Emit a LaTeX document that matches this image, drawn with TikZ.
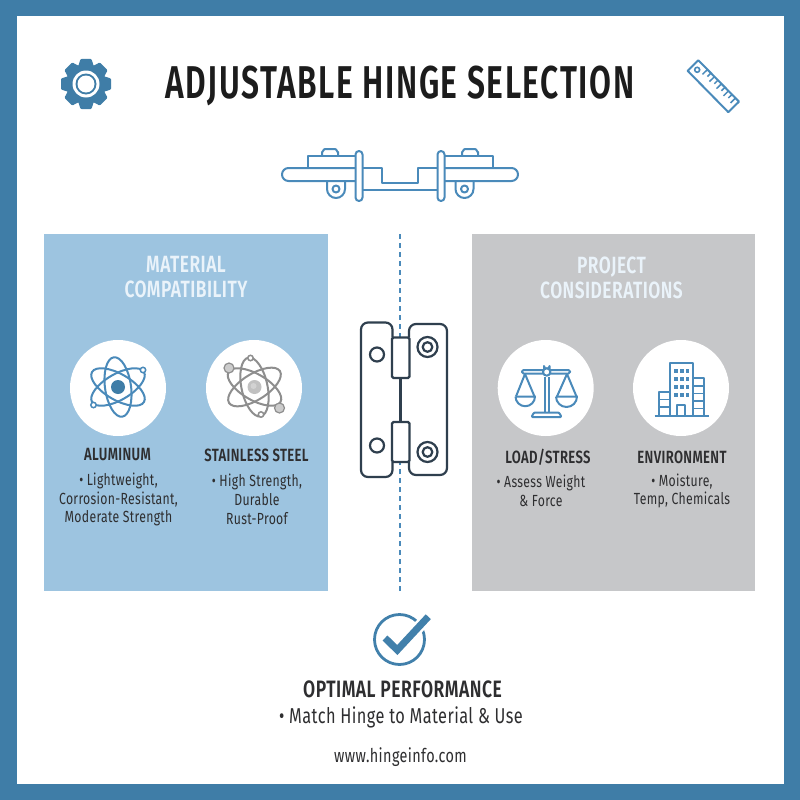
\documentclass[tikz,border=0pt]{standalone}
\usepackage{fontspec}
\setmainfont{Fira Sans}
\newfontfamily\titlefont[FakeStretch=0.69,LetterSpace=3.5]{Fira Sans SemiBold}
\newfontfamily\headfont[FakeStretch=0.74,LetterSpace=2]{Fira Sans SemiBold}
\newfontfamily\bodyfont[FakeStretch=0.76,LetterSpace=2]{Fira Sans}
\definecolor{frameblue}{HTML}{3F7DA7}
\definecolor{lineblue}{HTML}{4A8ABA}
\definecolor{panelblue}{HTML}{9DC4E0}
\definecolor{panelgray}{HTML}{C6C7C9}
\definecolor{ink}{HTML}{1C1C1C}
\definecolor{text2}{HTML}{2E2E30}
\definecolor{hingeink}{HTML}{2F3F4E}
\definecolor{atomgray}{HTML}{8E8E8E}
\definecolor{titlepale}{HTML}{EAF3FA}
\begin{document}
\begin{tikzpicture}[x=1pt,y=-1pt,
  blueline/.style={draw=lineblue,line width=2pt,line join=round},
  hingeline/.style={draw=hingeink,line width=2.2pt,fill=white},
  iconbg/.style={circle,fill=white,minimum size=96pt,inner sep=0pt},
  lab/.style={align=center,inner sep=0pt,text=text2},
  headlab/.style={lab,font=\headfont\fontsize{17.7}{19}\selectfont},
  bodylab/.style={lab,font=\bodyfont\fontsize{16.1}{18.8}\selectfont},
  paneltitle/.style={align=center,inner sep=0pt,text=titlepale,font=\headfont\fontsize{23.5}{25}\selectfont}]
\useasboundingbox (0,0) rectangle (800,800);
\fill[frameblue] (0,0) rectangle (800,800);
\fill[white] (16.5,16.5) rectangle (783.5,783.5);

% title
\node[anchor=base,inner sep=0pt,text=ink,font=\titlefont\fontsize{46}{50}\selectfont] (title) at (400,98) {ADJUSTABLE HINGE SELECTION};

% gear
\begin{scope}[shift={(86,84)}]
  \foreach \a in {0,45,...,315}
    \fill[frameblue,rotate=\a,rounded corners=1pt] (-5.5,-25) -- (5.5,-25) -- (8,-17) -- (-8,-17) -- cycle;
  \fill[frameblue] (0,0) circle (20);
  \fill[white] (0,0) circle (13.5);
  \fill[frameblue] (0,0) circle (10.5);
  \fill[white] (0,0) circle (8.5);
\end{scope}

% ruler
\begin{scope}[shift={(713.3,86.2)},rotate=-45.5]
  \draw[blueline] (-29,-7.5) rectangle (29,7.5);
  \draw[draw=lineblue,line width=1.6pt] (-23,0) circle (2.5);
  \foreach \x/\l in {-16/7,-11/5,-6/7,-1/5,4/7,9/5,14/7,19/5,24/7}
    \draw[draw=lineblue,line width=1.5pt] (\x,-7.5) -- ++(0,\l);
\end{scope}

% top hinge
\begin{scope}[blueline]
  \draw (322,156) -- (322,152) to[out=-90,in=180] (325,149) -- (335,149) to[out=0,in=-90] (338,152) -- (338,156);
  \draw (462,156) -- (462,152) to[out=-90,in=180] (465,149) -- (475,149) to[out=0,in=-90] (478,152) -- (478,156);
  \draw (307.5,168) -- (307.5,156) -- (355,156);
  \draw (445,156) -- (492.5,156) -- (492.5,168);
  \draw (355,168) -- (288.5,168) arc[start angle=-90,end angle=-270,radius=6.5] -- (355,181);
  \draw (445,168) -- (511.5,168) arc[start angle=-90,end angle=90,radius=6.5] -- (445,181);
  \draw (362,168) -- (382,168) -- (382,182.5) -- (418,182.5) -- (418,168) -- (437.5,168);
  \draw (362,190) -- (437.5,190);
  \draw (327,181) -- (327,189) arc[start angle=180,end angle=0,radius=9] -- (345,181);
  \draw (455.5,181) -- (455.5,189) arc[start angle=180,end angle=0,radius=9] -- (473.5,181);
  \draw (336,189) circle (3.5);
  \draw (464.5,189) circle (3.5);
  \draw[rounded corners=3.5pt,fill=white] (355.5,151) rectangle (362.5,201);
  \draw[rounded corners=3.5pt,fill=white] (437.5,151) rectangle (444.5,201);
\end{scope}

% panels
\fill[panelblue] (44,234) rectangle (328,591);
\fill[panelgray] (472,234) rectangle (755,591);
\draw[draw=lineblue,line width=1.3pt,dash pattern=on 5pt off 4pt] (400,234) -- (400,340);
\draw[draw=lineblue,line width=1.3pt,dash pattern=on 5pt off 4pt] (400,591) -- (400,460);

\node[paneltitle] (mattitle) at (186,277.5) {MATERIAL\\COMPATIBILITY};
\node[paneltitle] (protitle) at (611.5,277.5) {PROJECT\\CONSIDERATIONS};

% icon circles
\node[iconbg] (c1) at (118,388) {};
\node[iconbg] (c2) at (254,388) {};
\node[iconbg] (c3) at (545.7,388) {};
\node[iconbg] (c4) at (681,388) {};

% atom 1
\begin{scope}[shift={(118,387)},draw=lineblue,line width=2pt]
  \foreach \r in {8,60,-60} \draw[rotate=\r] (0,0) ellipse (13 and 30);
  \fill[frameblue] (0,0) circle (7);
  \draw[fill=white,line width=1.5pt] (25,-17) circle (2.7);
  \draw[fill=white,line width=1.5pt] (-24.5,18) circle (2.7);
\end{scope}
% atom 2
\begin{scope}[shift={(254.5,387)},draw=atomgray,line width=2pt]
  \foreach \r in {12,60,-58} \draw[rotate=\r] (0,0) ellipse (13 and 30);
  \fill[atomgray!55] (0,0) circle (7);
  \fill[white!60!atomgray] (-1,-1) circle (3);
  \draw[fill=atomgray!45,line width=1.2pt] (-25.5,-19) circle (5);
  \draw[fill=atomgray!45,line width=1.2pt] (25,21) circle (5);
  \draw[fill=white,line width=1.5pt] (-4,-29) circle (2.7);
  \draw[fill=white,line width=1.5pt] (6.5,27.5) circle (2.7);
\end{scope}

% scales
\begin{scope}[blueline]
  \draw[rounded corners=1.5pt] (522,370) rectangle (570,373.5);
  \draw (544.5,377) -- (544.5,413) (549,377) -- (549,413);
  \draw (544,370) -- (544,366) arc[start angle=180,end angle=0,radius=2.8] -- (549.6,370);
  \draw[fill=white] (546.7,372) circle (3.7);
  \draw[rounded corners=1pt] (531.5,417) -- (534,412.5) -- (559,412.5) -- (561.5,417) -- cycle;
  \draw (525,374) -- (516,396.5) (525,374) -- (534.5,396.5);
  \draw (515.5,396.5) -- (535,396.5) arc[start angle=0,end angle=180,radius=9.75];
  \draw (567,374) -- (557,396.5) (567,374) -- (576.5,396.5);
  \draw (556,396.5) -- (577,396.5) arc[start angle=0,end angle=180,radius=10.5];
\end{scope}

% building
\begin{scope}[blueline]
  \draw (669.5,415.5) -- (669.5,363) -- (692.5,363) -- (692.5,415.5);
  \draw (692.5,377.5) -- (703.5,377.5) -- (703.5,415.5);
  \draw (669.5,392) -- (658.5,392) -- (658.5,415.5);
  \draw (654.5,415.5) -- (708.5,415.5);
  \draw (676.5,415.5) -- (676.5,405) -- (685,405) -- (685,415.5);
  \foreach \y in {386,393.5,401,408.5} \draw[line width=1.6pt] (692.5,\y) -- (703.5,\y);
  \foreach \y in {399.5,407} \draw[line width=1.6pt] (658.5,\y) -- (669.5,\y);
  \foreach \x in {675.8,681.6,687.4}
    \foreach \y in {370.7,378.7,386.7,394.7}
      \fill[lineblue] (\x-1.9,\y-1.9) rectangle (\x+1.9,\y+1.9);
\end{scope}

% panel labels
\node[headlab] (alu) at (117.5,455) {ALUMINUM};
\node[bodylab] (alub) at (118.5,499.5) {\textbullet\ Lightweight,\\Corrosion-Resistant,\\Moderate Strength};
\node[headlab] (sta) at (256.5,455) {STAINLESS STEEL};
\node[bodylab] (stab) at (257,499.5) {\textbullet\ High Strength,\\Durable\\Rust-Proof};
\node[headlab] (loa) at (548,457) {LOAD/STRESS};
\node[bodylab] (loab) at (541,491) {\textbullet\ Assess Weight\\\& Force};
\node[headlab] (env) at (682,457) {ENVIRONMENT};
\node[bodylab] (envb) at (682,491) {\textbullet\ Moisture,\\Temp, Chemicals};

% centre hinge
\draw[draw=hingeink,line width=2.2pt] (400.5,378) -- (400.5,422);
\draw[draw=hingeink,line width=2.2pt,rounded corners=7pt] (392.5,337.5) -- (392.5,322.5) -- (361,322.5) -- (361,477) -- (392.5,477) -- (392.5,462);
\draw[draw=hingeink,line width=2.2pt,rounded corners=7pt] (409,337.5) -- (409,324) -- (447,324) -- (447,475) -- (409,475) -- (409,462);
\draw[hingeline,rounded corners=1.5pt] (392,337.5) rectangle (409.5,378);
\draw[hingeline,rounded corners=1.5pt] (392,422) rectangle (409.5,462);
\draw[hingeline] (377,354.5) circle (7);
\draw[hingeline] (377,445.5) circle (7);
\draw[hingeline] (427.5,347) circle (10);
\draw[hingeline] (427.5,347) circle (4.8);
\draw[hingeline] (427.5,452) circle (10);
\draw[hingeline] (427.5,452) circle (4.8);

% check
\draw[draw=frameblue!80!lineblue,line width=2.8pt] (399.5,639.5) circle (25);
\draw[draw=white,line width=12pt] (397.3,650) -- (428.3,616.7);
\draw[draw=frameblue!80!lineblue,line width=7pt] (385,638) -- (397.3,650) -- (428.3,616.7);

% bottom text
\node[lab,font=\headfont\fontsize{23.7}{25}\selectfont] (opt) at (402.5,689) {OPTIMAL PERFORMANCE};
\node[lab,font=\bodyfont\fontsize{21.5}{25}\selectfont] (mat) at (401,717.5) {\textbullet\ Match Hinge to Material \& Use};
\node[lab,font=\bodyfont\fontsize{19}{20}\selectfont] (web) at (400.5,757) {www.hingeinfo.com};
\end{tikzpicture}
\end{document}
